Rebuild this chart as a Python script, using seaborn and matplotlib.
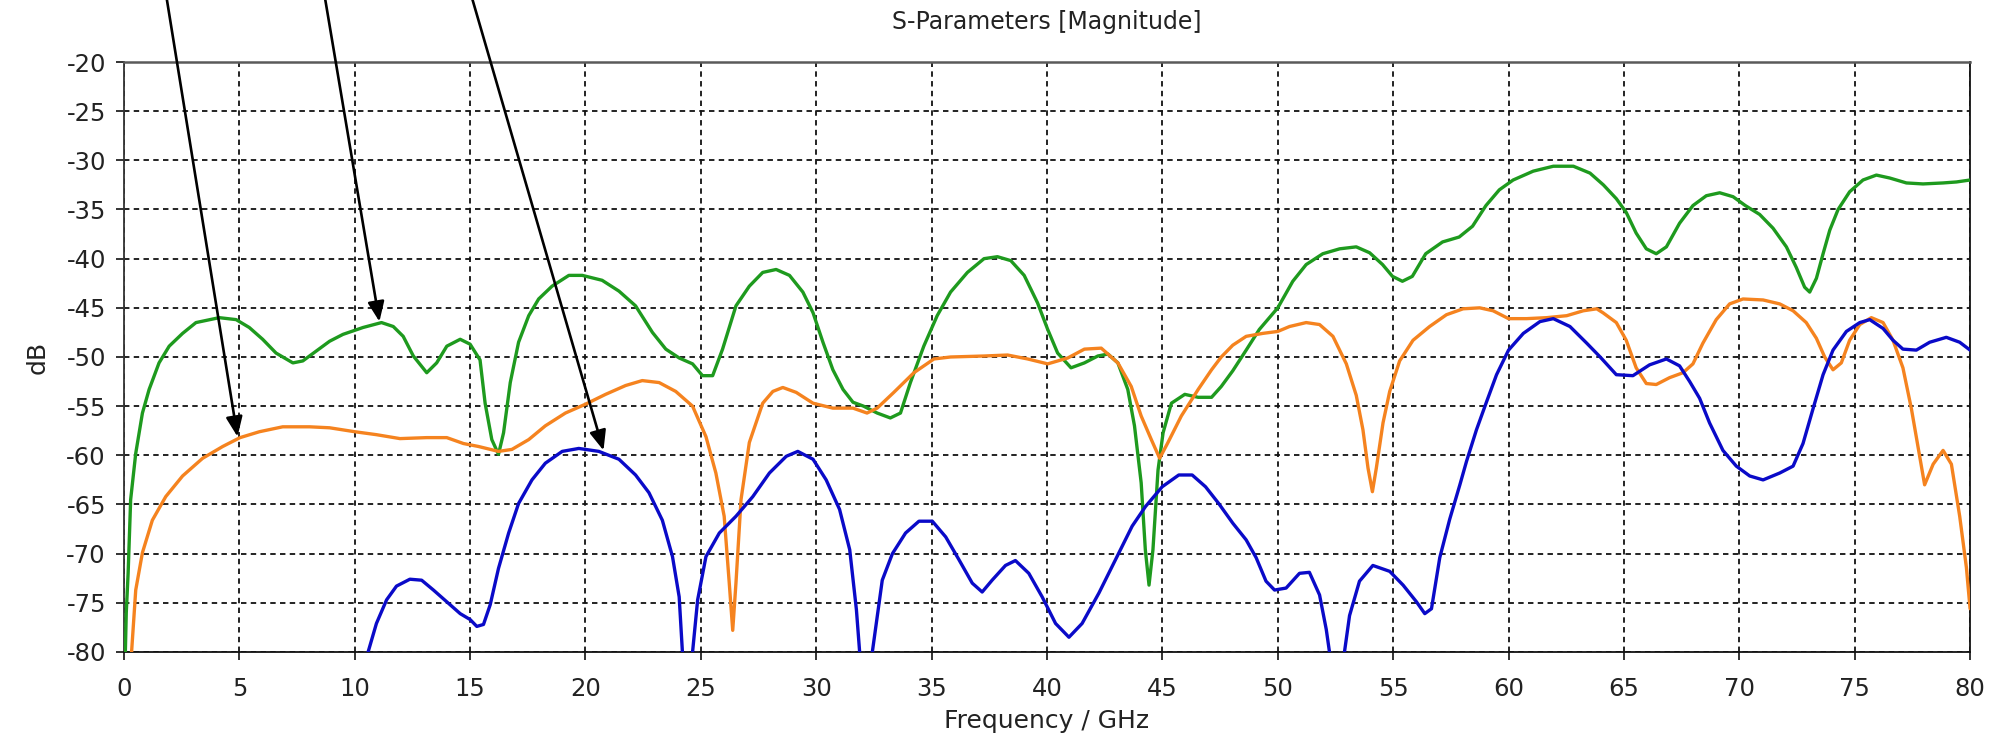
import matplotlib
matplotlib.use("Agg")
import matplotlib.pyplot as plt
from matplotlib import font_manager
import seaborn as sns

# ---- S-parameter magnitude traces (frequency in GHz, magnitude in dB) ----
green_f = [0.00, 0.10, 0.18, 0.29, 0.51, 0.80, 1.09, 1.52, 1.96, 2.54, 3.12, 4.13, 4.86, 5.43,
           6.01, 6.59, 7.32, 7.75, 8.33, 8.91, 9.49, 10.36, 11.16, 11.67, 12.10, 12.54, 13.12,
           13.55, 13.99, 14.57, 15.00, 15.43, 15.65, 15.94, 16.23, 16.45, 16.74, 17.10, 17.54,
           17.97, 18.55, 19.28, 19.86, 20.72, 21.45, 22.17, 22.90, 23.48, 24.06, 24.64, 25.07,
           25.51, 25.94, 26.52, 27.10, 27.68, 28.26, 28.84, 29.42, 29.86, 30.29, 30.72, 31.16,
           31.59, 32.05, 32.64, 33.21, 33.65, 34.08, 34.66, 35.24, 35.82, 36.55, 37.27, 37.85,
           38.43, 39.01, 39.59, 40.03, 40.46, 41.04, 41.62, 42.20, 42.64, 43.07, 43.50, 43.79,
           44.08, 44.26, 44.42, 44.59, 44.81, 45.03, 45.39, 45.97, 46.55, 47.13, 47.55, 48.05,
           48.63, 49.20, 50.00, 50.65, 51.23, 51.95, 52.68, 53.40, 53.98, 54.54, 54.97, 55.40,
           55.83, 56.41, 57.14, 57.86, 58.44, 59.02, 59.60, 60.20, 61.07, 61.94, 62.81, 63.53,
           64.11, 64.67, 65.10, 65.53, 65.97, 66.40, 66.84, 67.41, 67.99, 68.57, 69.15, 69.73,
           70.26, 70.88, 71.46, 72.04, 72.47, 72.83, 73.05, 73.34, 73.63, 73.92, 74.28, 74.78,
           75.36, 75.94, 76.52, 77.24, 77.96, 78.83, 79.41, 80.00]
green_db = [-86.0, -76.0, -72.0, -64.5, -59.8, -55.7, -53.3, -50.6, -48.9, -47.6, -46.5, -46.0,
            -46.2, -47.0, -48.2, -49.6, -50.6, -50.4, -49.4, -48.4, -47.7, -47.0, -46.5, -46.9,
            -47.9, -49.9, -51.6, -50.6, -48.9, -48.2, -48.7, -50.3, -54.7, -58.4, -59.9, -57.7,
            -52.6, -48.5, -45.8, -44.1, -42.8, -41.7, -41.7, -42.2, -43.3, -44.8, -47.5, -49.2,
            -50.1, -50.7, -51.9, -51.9, -49.2, -44.8, -42.8, -41.4, -41.1, -41.7, -43.4, -45.5,
            -48.5, -51.3, -53.3, -54.6, -55.0, -55.7, -56.2, -55.7, -52.6, -48.9, -45.8, -43.4,
            -41.4, -40.0, -39.8, -40.2, -41.7, -44.5, -47.2, -49.6, -51.1, -50.6, -49.9, -49.7,
            -50.6, -53.3, -57.0, -62.8, -69.6, -73.2, -69.6, -61.5, -57.7, -54.7, -53.8, -54.1,
            -54.1, -53.0, -51.4, -49.3, -47.2, -45.0, -42.3, -40.6, -39.5, -39.0, -38.8, -39.4,
            -40.6, -41.8, -42.3, -41.8, -39.5, -38.3, -37.8, -36.7, -34.6, -33.0, -32.0, -31.1,
            -30.6, -30.6, -31.3, -32.5, -33.9, -35.3, -37.4, -39.0, -39.5, -38.8, -36.4, -34.6,
            -33.6, -33.3, -33.7, -34.6, -35.5, -36.9, -38.8, -40.9, -42.9, -43.4, -42.0, -39.5,
            -37.1, -35.0, -33.2, -32.0, -31.5, -31.8, -32.3, -32.4, -32.3, -32.2, -32.0]

orange_f = [0.25, 0.33, 0.51, 0.80, 1.23, 1.81, 2.54, 3.41, 4.28, 5.03, 5.87, 6.88, 8.04, 8.91,
            10.00, 10.94, 11.96, 13.12, 13.99, 14.71, 15.36, 16.23, 16.81, 17.54, 18.26, 19.13,
            20.00, 20.87, 21.74, 22.46, 23.19, 23.91, 24.64, 25.22, 25.65, 26.01, 26.23, 26.38,
            26.52, 26.74, 27.10, 27.68, 28.12, 28.55, 29.13, 29.86, 30.72, 31.59, 32.20, 32.64,
            33.36, 34.23, 35.10, 35.82, 37.27, 38.29, 39.16, 40.03, 40.90, 41.62, 42.35, 43.07,
            43.65, 44.08, 44.52, 44.88, 45.24, 45.82, 46.55, 47.13, 47.55, 48.05, 48.63, 49.35,
            50.00, 50.51, 51.23, 51.81, 52.39, 52.97, 53.40, 53.69, 53.91, 54.10, 54.27, 54.56,
            54.85, 55.28, 55.86, 56.58, 57.31, 58.03, 58.75, 59.33, 60.00, 60.78, 61.65, 62.52,
            63.24, 63.82, 64.09, 64.67, 65.10, 65.53, 65.97, 66.40, 66.98, 67.56, 67.99, 68.42,
            69.00, 69.58, 70.16, 71.03, 71.75, 72.33, 72.90, 73.34, 73.70, 74.06, 74.42, 74.78,
            75.22, 75.72, 76.23, 76.66, 77.09, 77.46, 77.75, 78.03, 78.40, 78.83, 79.19, 79.55,
            79.84, 80.00]
orange_db = [-88.0, -80.0, -73.7, -69.9, -66.6, -64.2, -62.1, -60.3, -59.1, -58.2, -57.6, -57.1,
             -57.1, -57.2, -57.6, -57.9, -58.3, -58.2, -58.2, -58.8, -59.1, -59.6, -59.4, -58.4,
             -57.0, -55.7, -54.8, -53.8, -52.9, -52.4, -52.6, -53.5, -55.0, -58.1, -61.8, -66.2,
             -73.0, -77.8, -73.0, -64.5, -58.7, -54.7, -53.5, -53.1, -53.6, -54.7, -55.2, -55.2,
             -55.7, -55.2, -53.6, -51.6, -50.2, -50.0, -49.9, -49.8, -50.2, -50.7, -50.1, -49.2,
             -49.1, -50.6, -53.0, -56.0, -58.4, -60.3, -58.7, -56.0, -53.3, -51.3, -50.0, -48.8,
             -47.9, -47.6, -47.4, -46.9, -46.5, -46.7, -47.9, -50.7, -53.9, -57.4, -61.3, -63.7,
             -61.3, -56.7, -53.5, -50.4, -48.3, -46.9, -45.7, -45.1, -45.0, -45.3, -46.1, -46.1,
             -46.0, -45.8, -45.3, -45.1, -45.5, -46.5, -48.3, -51.1, -52.7, -52.8, -52.1, -51.6,
             -50.7, -48.6, -46.2, -44.6, -44.1, -44.2, -44.6, -45.3, -46.5, -48.1, -50.0, -51.3,
             -50.6, -48.3, -46.7, -46.0, -46.5, -48.3, -51.1, -55.3, -59.2, -63.0, -60.9, -59.5,
             -60.9, -66.2, -71.4, -75.6]

blue_f = [10.40, 10.58, 10.94, 11.38, 11.81, 12.39, 12.90, 13.41, 13.99, 14.57, 15.00, 15.29,
          15.58, 15.87, 16.23, 16.67, 17.10, 17.68, 18.26, 18.99, 19.71, 20.58, 21.45, 22.17,
          22.75, 23.33, 23.77, 24.06, 24.20, 24.40, 24.64, 24.86, 25.22, 25.80, 26.52, 27.25,
          27.97, 28.70, 29.20, 29.86, 30.43, 31.01, 31.45, 31.74, 31.88, 32.15, 32.43, 32.86,
          33.30, 33.87, 34.45, 35.03, 35.61, 36.18, 36.76, 37.19, 37.62, 38.20, 38.63, 39.21,
          39.79, 40.37, 40.95, 41.52, 42.25, 42.97, 43.69, 44.27, 44.99, 45.71, 46.29, 46.87,
          47.44, 48.05, 48.63, 49.06, 49.49, 49.86, 50.36, 50.94, 51.37, 51.81, 52.10, 52.24,
          52.55, 52.89, 53.11, 53.54, 54.12, 54.85, 55.43, 56.01, 56.37, 56.66, 57.02, 57.45,
          57.89, 58.18, 58.61, 59.04, 59.48, 60.00, 60.64, 61.36, 61.94, 62.66, 63.39, 63.97,
          64.67, 65.39, 66.11, 66.84, 67.41, 67.85, 68.28, 68.71, 69.29, 69.87, 70.45, 71.03,
          71.75, 72.33, 72.76, 73.19, 73.63, 74.06, 74.64, 75.22, 75.65, 76.23, 76.66, 77.09,
          77.67, 78.25, 78.97, 79.55, 80.00]
blue_db = [-86.0, -80.0, -77.1, -74.7, -73.3, -72.6, -72.7, -73.7, -74.9, -76.1, -76.7, -77.4,
           -77.2, -75.2, -71.5, -67.9, -64.9, -62.5, -60.8, -59.6, -59.3, -59.6, -60.4, -62.0,
           -63.8, -66.6, -70.3, -74.4, -80.0, -90.0, -80.0, -74.7, -70.3, -67.9, -66.2, -64.2,
           -61.8, -60.1, -59.6, -60.4, -62.5, -65.5, -69.6, -75.7, -80.0, -90.0, -80.0, -72.7,
           -70.0, -67.9, -66.7, -66.7, -68.3, -70.6, -73.0, -73.9, -72.7, -71.2, -70.7, -72.0,
           -74.4, -77.1, -78.5, -77.1, -74.0, -70.6, -67.2, -65.2, -63.2, -62.0, -62.0, -63.2,
           -64.9, -66.9, -68.6, -70.4, -72.8, -73.7, -73.5, -72.0, -71.9, -74.2, -77.7, -80.0,
           -90.0, -80.0, -76.3, -72.8, -71.2, -71.8, -73.2, -74.9, -76.1, -75.6, -70.4, -66.5,
           -63.0, -60.6, -57.4, -54.6, -51.8, -49.3, -47.6, -46.4, -46.1, -46.9, -48.6, -50.0,
           -51.8, -51.9, -50.8, -50.2, -50.9, -52.5, -54.2, -56.7, -59.5, -61.1, -62.1, -62.5,
           -61.8, -61.1, -58.8, -55.3, -51.8, -49.3, -47.4, -46.5, -46.2, -47.1, -48.3, -49.2,
           -49.3, -48.5, -48.0, -48.5, -49.3]

# Callout arrows: tail (above the plot) -> tip on a trace
arrow_tails = [(1.78, -12.5), (8.64, -12.5), (14.96, -12.5)]
arrow_tips = [(4.92, -58.1), (11.07, -46.4), (20.78, -59.5)]

x_ticks = list(range(0, 81, 5))
y_ticks = list(range(-80, -19, 5))

title_text = "S-Parameters [Magnitude]"
x_label = "Frequency / GHz"
y_label = "dB"

# ---- styling ----
sns.set_theme(style="white")
available = {f.name for f in font_manager.fontManager.ttflist}
family = next((f for f in ["Tahoma", "Verdana", "DejaVu Sans"] if f in available), "DejaVu Sans")
plt.rcParams["font.family"] = [family]

fig = plt.figure(figsize=(19.93, 7.47), dpi=100)
ax = fig.add_axes([0.0622, 0.1272, 0.9263, 0.7898])

trace_colors = {"green": "#1e9a1e", "orange": "#f5831f", "blue": "#0a0ac8"}
for fx, fy, c in [(green_f, green_db, trace_colors["green"]),
                  (orange_f, orange_db, trace_colors["orange"]),
                  (blue_f, blue_db, trace_colors["blue"])]:
    sns.lineplot(x=fx, y=fy, ax=ax, color=c, linewidth=2.4, estimator=None, sort=False,
                 zorder=3)

ax.set_xlim(0, 80)
ax.set_ylim(-80, -20)
ax.set_xticks(x_ticks)
ax.set_yticks(y_ticks)
ax.set_xticklabels([str(t) for t in x_ticks])
ax.set_yticklabels([str(t) for t in y_ticks])

ax.grid(True, color="#111111", linewidth=1.3, linestyle=(0, (3.0, 2.4)))
ax.set_axisbelow(True)

ax.tick_params(axis="both", direction="out", length=6, width=1.2, color="#111111",
               labelsize=17.5, labelcolor="#222222")
ax.tick_params(axis="x", pad=12)
ax.tick_params(axis="y", pad=7)
ax.tick_params(bottom=True, left=True)

for side, col, lw in [("top", "#5a5a5a", 1.8), ("left", "#333333", 1.3),
                      ("right", "#111111", 1.3), ("bottom", "#111111", 1.3)]:
    ax.spines[side].set_color(col)
    ax.spines[side].set_linewidth(lw)
    ax.spines[side].set_visible(True)

ax.set_title(title_text, fontsize=17, color="#222222", pad=24)
ax.set_xlabel(x_label, fontsize=18, color="#222222", labelpad=6)
ax.set_ylabel(y_label, fontsize=18, color="#222222", labelpad=12)

for tail, tip in zip(arrow_tails, arrow_tips):
    ax.annotate("", xy=tip, xytext=tail, xycoords="data", textcoords="data",
                annotation_clip=False, zorder=5,
                arrowprops=dict(arrowstyle="-|>,head_length=0.6,head_width=0.25",
                                mutation_scale=20, color="black", lw=1.9,
                                shrinkA=0, shrinkB=0))

fig.savefig("out.png", dpi=100, facecolor="white")
